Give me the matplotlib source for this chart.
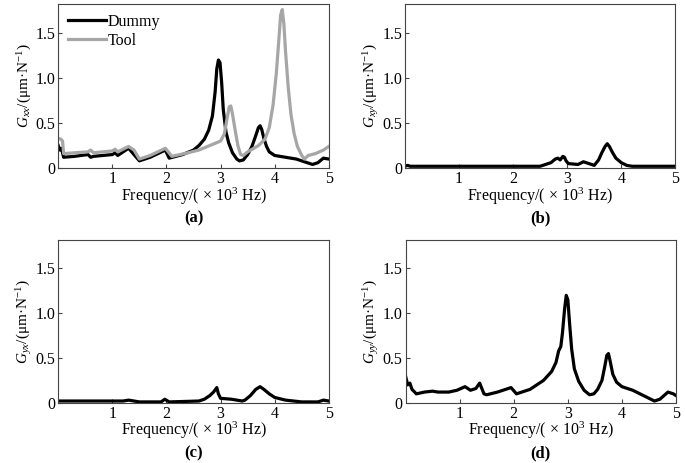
import matplotlib
matplotlib.use("Agg")
import matplotlib.pyplot as plt

plt.rcParams['font.family'] = ['Liberation Serif', 'DejaVu Serif']
plt.rcParams['mathtext.fontset'] = 'custom'
plt.rcParams['mathtext.rm'] = 'Liberation Serif'
plt.rcParams['mathtext.it'] = 'Liberation Serif:italic'

# frequency in kHz, compliance in um/N
f_dummy = [0.0, 0.03, 0.06, 0.1, 0.3, 0.55, 0.6, 0.65, 1.0, 1.05, 1.1, 1.3, 1.5, 1.7, 1.98, 2.05,
           2.3, 2.5, 2.6, 2.7, 2.78, 2.85, 2.9, 2.93, 2.96, 2.99, 3.02, 3.05, 3.1, 3.15, 3.22,
           3.3, 3.35, 3.42, 3.5, 3.58, 3.65, 3.7, 3.73, 3.76, 3.8, 3.85, 3.9, 4.0, 4.2, 4.4,
           4.55, 4.7, 4.8, 4.9, 5.0]
g_dummy = [0.25, 0.2, 0.22, 0.12, 0.13, 0.15, 0.12, 0.13, 0.15, 0.17, 0.14, 0.22, 0.08, 0.12, 0.2, 0.11,
           0.15, 0.2, 0.25, 0.32, 0.42, 0.58, 0.85, 1.1, 1.2, 1.17, 0.95, 0.65, 0.4, 0.28, 0.17,
           0.1, 0.08, 0.09, 0.15, 0.24, 0.36, 0.45, 0.47, 0.43, 0.33, 0.24, 0.18, 0.14, 0.12, 0.1,
           0.07, 0.04, 0.06, 0.11, 0.1]

f_tool = [0.0, 0.05, 0.08, 0.1, 0.3, 0.55, 0.6, 0.65, 1.0, 1.05, 1.1, 1.3, 1.4, 1.5, 1.7, 1.98, 2.1,
          2.4, 2.6, 2.8, 3.0, 3.07, 3.12, 3.16, 3.19, 3.22, 3.27, 3.32, 3.37, 3.42, 3.5, 3.7,
          3.82, 3.9, 3.97, 4.03, 4.08, 4.11, 4.14, 4.17, 4.2, 4.25, 4.3, 4.36, 4.42, 4.5, 4.55,
          4.62, 4.75, 4.9, 5.0]
g_tool = [0.33, 0.32, 0.3, 0.16, 0.17, 0.18, 0.2, 0.17, 0.19, 0.21, 0.18, 0.24, 0.2, 0.1, 0.14, 0.22, 0.13,
          0.17, 0.2, 0.25, 0.3, 0.38, 0.55, 0.68, 0.69, 0.6, 0.42, 0.25, 0.15, 0.14, 0.18, 0.25,
          0.32, 0.45, 0.7, 1.05, 1.45, 1.7, 1.76, 1.6, 1.3, 0.9, 0.6, 0.38, 0.24, 0.14, 0.1,
          0.14, 0.16, 0.2, 0.24]

f_xy = [0.0, 0.05, 0.1, 1.0, 2.0, 2.5, 2.6, 2.7, 2.78, 2.83, 2.87, 2.92, 2.95, 2.98, 3.02, 3.2,
        3.3, 3.4, 3.5, 3.58, 3.64, 3.7, 3.74, 3.78, 3.84, 3.9, 4.0, 4.1, 4.2, 4.5, 5.0]
g_xy = [0.02, 0.03, 0.02, 0.02, 0.02, 0.02, 0.04, 0.06, 0.1, 0.11, 0.09, 0.13, 0.12, 0.08, 0.05, 0.04,
        0.07, 0.05, 0.03, 0.09, 0.17, 0.24, 0.27, 0.24, 0.17, 0.11, 0.06, 0.03, 0.02, 0.02, 0.02]

f_yx = [0.0, 0.5, 1.0, 1.2, 1.3, 1.5, 1.9, 1.97, 2.05, 2.6, 2.7, 2.8, 2.87, 2.93, 2.96, 3.0, 3.2,
        3.4, 3.45, 3.55, 3.65, 3.73, 3.8, 3.9, 4.0, 4.2, 4.5, 4.8, 4.9, 5.0]
g_yx = [0.02, 0.02, 0.02, 0.02, 0.03, 0.01, 0.01, 0.04, 0.01, 0.02, 0.04, 0.08, 0.12, 0.17, 0.1, 0.05, 0.04,
        0.02, 0.03, 0.08, 0.15, 0.18, 0.15, 0.1, 0.06, 0.03, 0.01, 0.01, 0.03, 0.02]

f_yy = [0.0, 0.04, 0.08, 0.12, 0.2, 0.35, 0.5, 0.6, 0.8, 0.95, 1.1, 1.2, 1.3, 1.37, 1.45, 1.5, 1.7,
        1.95, 2.05, 2.3, 2.55, 2.7, 2.78, 2.83, 2.87, 2.9, 2.94, 2.97, 3.0, 3.03, 3.07, 3.12, 3.2,
        3.3, 3.4, 3.48, 3.55, 3.63, 3.68, 3.72, 3.75, 3.78, 3.83, 3.9, 4.0, 4.2, 4.4, 4.6, 4.7,
        4.85, 4.95, 5.0]
g_yy = [0.3, 0.2, 0.22, 0.15, 0.1, 0.12, 0.13, 0.12, 0.12, 0.14, 0.18, 0.14, 0.16, 0.22, 0.1, 0.09, 0.12,
        0.17, 0.1, 0.15, 0.25, 0.35, 0.45, 0.58, 0.63, 0.78, 1.05, 1.2, 1.15, 0.9, 0.6, 0.38, 0.24,
        0.14, 0.09, 0.1, 0.15, 0.25, 0.4, 0.53, 0.55, 0.47, 0.32, 0.23, 0.18, 0.14, 0.08, 0.02, 0.04,
        0.12, 0.1, 0.08]

ylabels = [r'$G_{xx}$/(μm·N$^{-1}$)', r'$G_{xy}$/(μm·N$^{-1}$)',
           r'$G_{yx}$/(μm·N$^{-1}$)', r'$G_{yy}$/(μm·N$^{-1}$)']
panels = ['(a)', '(b)', '(c)', '(d)']

fig = plt.figure(figsize=(6.85, 4.63), dpi=100)
boxes = [[0.085, 0.637, 0.395, 0.354], [0.591, 0.637, 0.395, 0.354],
         [0.085, 0.130, 0.395, 0.352], [0.592, 0.130, 0.395, 0.352]]
axes = [fig.add_axes(b) for b in boxes]

lw = 2.3
axes[0].plot(f_dummy, g_dummy, color='black', lw=lw, label='Dummy')
axes[0].plot(f_tool, g_tool, color='#a6a6a6', lw=lw, label='Tool')
axes[0].legend(loc='upper left', frameon=False, fontsize=11.5, handlelength=2.4,
               handletextpad=0.1, borderaxespad=0.2, labelspacing=0.2)
axes[1].plot(f_xy, g_xy, color='black', lw=lw)
axes[2].plot(f_yx, g_yx, color='black', lw=lw)
axes[3].plot(f_yy, g_yy, color='black', lw=lw)

for ax, yl, p in zip(axes, ylabels, panels):
    ax.set_xlim(0, 5)
    ax.set_ylim(0, 1.82)
    ax.set_xticks([1, 2, 3, 4, 5])
    ax.set_yticks([0, 0.5, 1.0, 1.5])
    ax.set_yticklabels(['0', '0.5', '1.0', '1.5'])
    ax.tick_params(direction='in', length=3, labelsize=11.5, pad=2, color='#444444')
    for s in ax.spines.values():
        s.set_color('#444444')
        s.set_linewidth(0.8)
    ax.set_ylabel(yl, fontsize=11, labelpad=1)
    ax.set_xlabel('Frequency/( × 10$^3$ Hz)', fontsize=11.5, labelpad=-1)
    ax.text(0.5, -0.26, p, transform=ax.transAxes, ha='center', va='top',
            fontsize=12, fontweight='bold')

fig.savefig('out.png', dpi=100)
